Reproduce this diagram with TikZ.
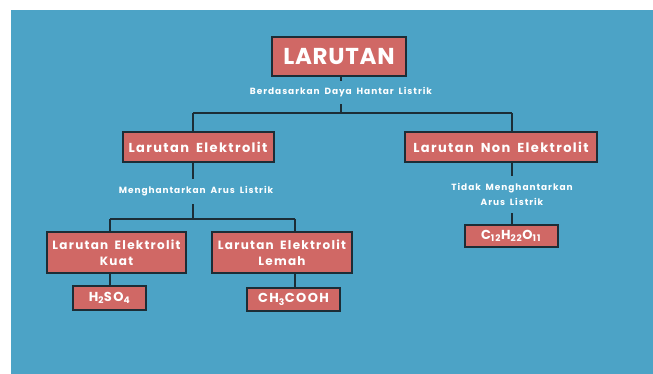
\documentclass[tikz,border=0pt]{standalone}
\usepackage{fontspec}
\setmainfont{Poppins}[LetterSpace=10.5,WordSpace=1.7]
\newfontfamily\bigf{Poppins}[LetterSpace=3]
\definecolor{bgblue}{HTML}{4CA3C6}
\definecolor{boxred}{HTML}{D06865}
\definecolor{dark}{HTML}{1C2D36}
\newcommand{\fsb}[2]{\fontsize{#1}{#2}\selectfont}
\tikzset{
  box/.style={draw=dark, line width=2pt, fill=boxred, text=white, inner sep=0pt, align=center, font=\bfseries\fsb{13}{15}},
  lbl/.style={text=white, inner sep=0pt, align=center, font=\bfseries\fsb{9}{11}},
  conn/.style={draw=dark, line width=2pt}
}
\begin{document}
\begin{tikzpicture}[x=1pt,y=-1pt]
\useasboundingbox (0,0) rectangle (653,374);
\fill[bgblue] (11,10) rectangle (653,374);
% boxes
\node[box, minimum width=134pt, minimum height=39pt, font=\bigf\bfseries\fsb{23}{26}] (top) at (339,56.5) {LARUTAN};
\node[box, minimum width=151pt, minimum height=30pt] (el) at (198,147) {Larutan Elektrolit};
\node[box, minimum width=192pt, minimum height=30pt] (nonel) at (501,147) {Larutan Non Elektrolit};
\node[box, minimum width=139pt, minimum height=41pt, font=\bfseries\fsb{12}{16}] (kuat) at (116.5,252.5) {Larutan Elektrolit\\Kuat};
\node[box, minimum width=140pt, minimum height=41pt, font=\bfseries\fsb{12}{16}] (lemah) at (282,252.5) {Larutan Elektrolit\\Lemah};
\node[box, minimum width=73pt, minimum height=24pt] (h2) at (109.5,298) {H\textsubscript{2}SO\textsubscript{4}};
\node[box, minimum width=93pt, minimum height=23pt] (ch) at (293.5,299.5) {CH\textsubscript{3}COOH};
\node[box, minimum width=93pt, minimum height=22pt] (c12) at (511,236) {C\textsubscript{12}H\textsubscript{22}O\textsubscript{11}};
% labels
\node[lbl, minimum height=23pt] (l1) at (341,92.5) {Berdasarkan Daya Hantar Listrik};
\node[lbl, minimum height=25pt] (l2) at (196,191.5) {Menghantarkan Arus Listrik};
\node[lbl, minimum height=37pt, font=\bfseries\fsb{9}{15}] (l3) at (512,194.5) {Tidak Menghantarkan\\Arus Listrik};
% junction coordinates
\coordinate (j1) at (341,113);
\coordinate (jL) at (193,113);
\coordinate (jR) at (512,113);
\coordinate (j2) at (193,219);
\coordinate (kL) at (110,219);
\coordinate (kR) at (295,219);
% connectors
\draw[conn] (el.south -| jL) -- (jL |- l2.north);
\draw[conn] (jL |- l2.south) -- (j2);
\draw[conn] (top.south -| l1) -- (l1.north);
\draw[conn] (l1.south) -- (j1);
\draw[conn] (jL) -- (jR);
\draw[conn] (jL) -- (jL |- el.north);
\draw[conn] (jR) -- (jR |- nonel.north);
\draw[conn] (kL) -- (kR);
\draw[conn] (kL) -- (kL |- kuat.north);
\draw[conn] (kR) -- (kR |- lemah.north);
\draw[conn] (kuat.south -| kL) -- (kL |- h2.north);
\draw[conn] (lemah.south -| kR) -- (kR |- ch.north);
\draw[conn] (nonel.south -| l3) -- (l3.north);
\draw[conn] (l3.south) -- (l3.south |- c12.north);
\end{tikzpicture}
\end{document}
